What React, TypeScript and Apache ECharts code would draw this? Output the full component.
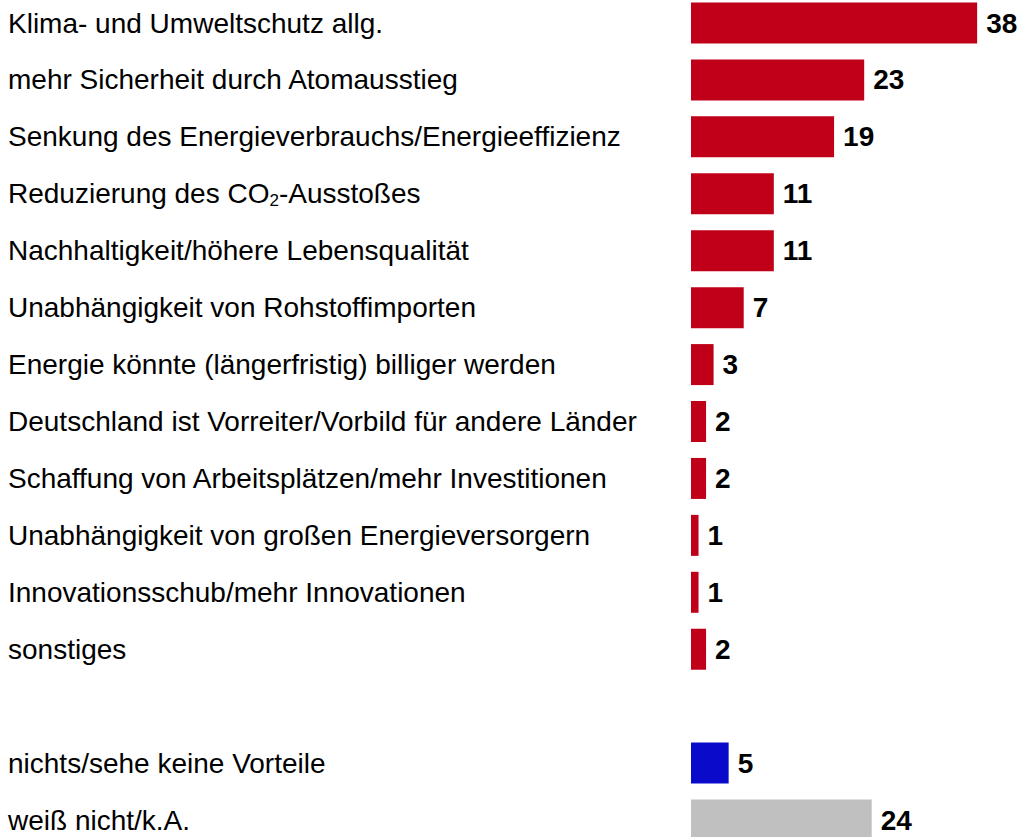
import React, { useEffect, useRef } from "react";
import * as echarts from "echarts";

const categories = [
  "Klima- und Umweltschutz allg.",
  "mehr Sicherheit durch Atomausstieg",
  "Senkung des Energieverbrauchs/Energieeffizienz",
  "Reduzierung des CO₂-Ausstoßes",
  "Nachhaltigkeit/höhere Lebensqualität",
  "Unabhängigkeit von Rohstoffimporten",
  "Energie könnte (längerfristig) billiger werden",
  "Deutschland ist Vorreiter/Vorbild für andere Länder",
  "Schaffung von Arbeitsplätzen/mehr Investitionen",
  "Unabhängigkeit von großen Energieversorgern",
  "Innovationsschub/mehr Innovationen",
  "sonstiges",
  "",
  "nichts/sehe keine Vorteile",
  "weiß nicht/k.A.",
];

const values: (number | null)[] = [38, 23, 19, 11, 11, 7, 3, 2, 2, 1, 1, 2, null, 5, 24];

const groups = ["pro", "pro", "pro", "pro", "pro", "pro", "pro", "pro", "pro", "pro", "pro", "pro", "", "none", "dk"];

const groupColors: Record<string, string> = {
  pro: "#C00018",
  none: "#0A0ACA",
  dk: "#C0C0C0",
  "": "#FFFFFF",
};

const FONT = '"Liberation Sans", Arial, Helvetica, sans-serif';
const SHIFT = 20;

export default function App() {
  const ref = useRef<HTMLDivElement>(null);
  useEffect(() => {
    if (!ref.current) return;
    const chart = echarts.init(ref.current, undefined, { renderer: "svg" });
    const pitch = 56.93;
    const n = categories.length;
    const gridLeft = 691;
    const pxPerUnit = 7.53;
    const xMax = 40;
    chart.setOption({
      animation: false,
      grid: {
        left: gridLeft,
        top: 23 + SHIFT - pitch / 2,
        width: pxPerUnit * xMax,
        height: pitch * n,
        containLabel: false,
      },
      xAxis: {
        type: "value",
        min: 0,
        max: xMax,
        show: false,
      },
      yAxis: {
        type: "category",
        inverse: true,
        data: categories,
        axisLine: { show: false },
        axisTick: { show: false },
        splitLine: { show: false },
        axisLabel: {
          align: "left",
          margin: gridLeft - 8,
          color: "#000",
          fontFamily: FONT,
          fontSize: 28,
          formatter: (v: string) => v.replace("₂", "{sub|2}"),
          rich: {
            sub: {
              fontFamily: FONT,
              fontSize: 17,
              color: "#000",
              verticalAlign: "bottom",
              padding: [14, 0, 0, 0],
            },
          },
        },
      },
      series: [
        {
          type: "bar",
          barWidth: 41,
          data: values.map((v, i) => ({
            value: v,
            itemStyle: { color: groupColors[groups[i]] },
          })),
          label: {
            show: true,
            position: "right",
            distance: 9,
            color: "#000",
            fontFamily: FONT,
            fontWeight: "bold",
            fontSize: 28,
            formatter: (p: any) => (p.value == null ? "" : String(p.value)),
          },
        },
      ],
    });
    return () => chart.dispose();
  }, []);
  return (
    <div
      style={{
        position: "fixed",
        left: 0,
        top: 0,
        width: 1021,
        height: 837,
        overflow: "hidden",
        background: "#fff",
      }}
    >
      <div ref={ref} style={{ position: "absolute", left: 0, top: -SHIFT, width: 1021, height: 900 }} />
    </div>
  );
}
